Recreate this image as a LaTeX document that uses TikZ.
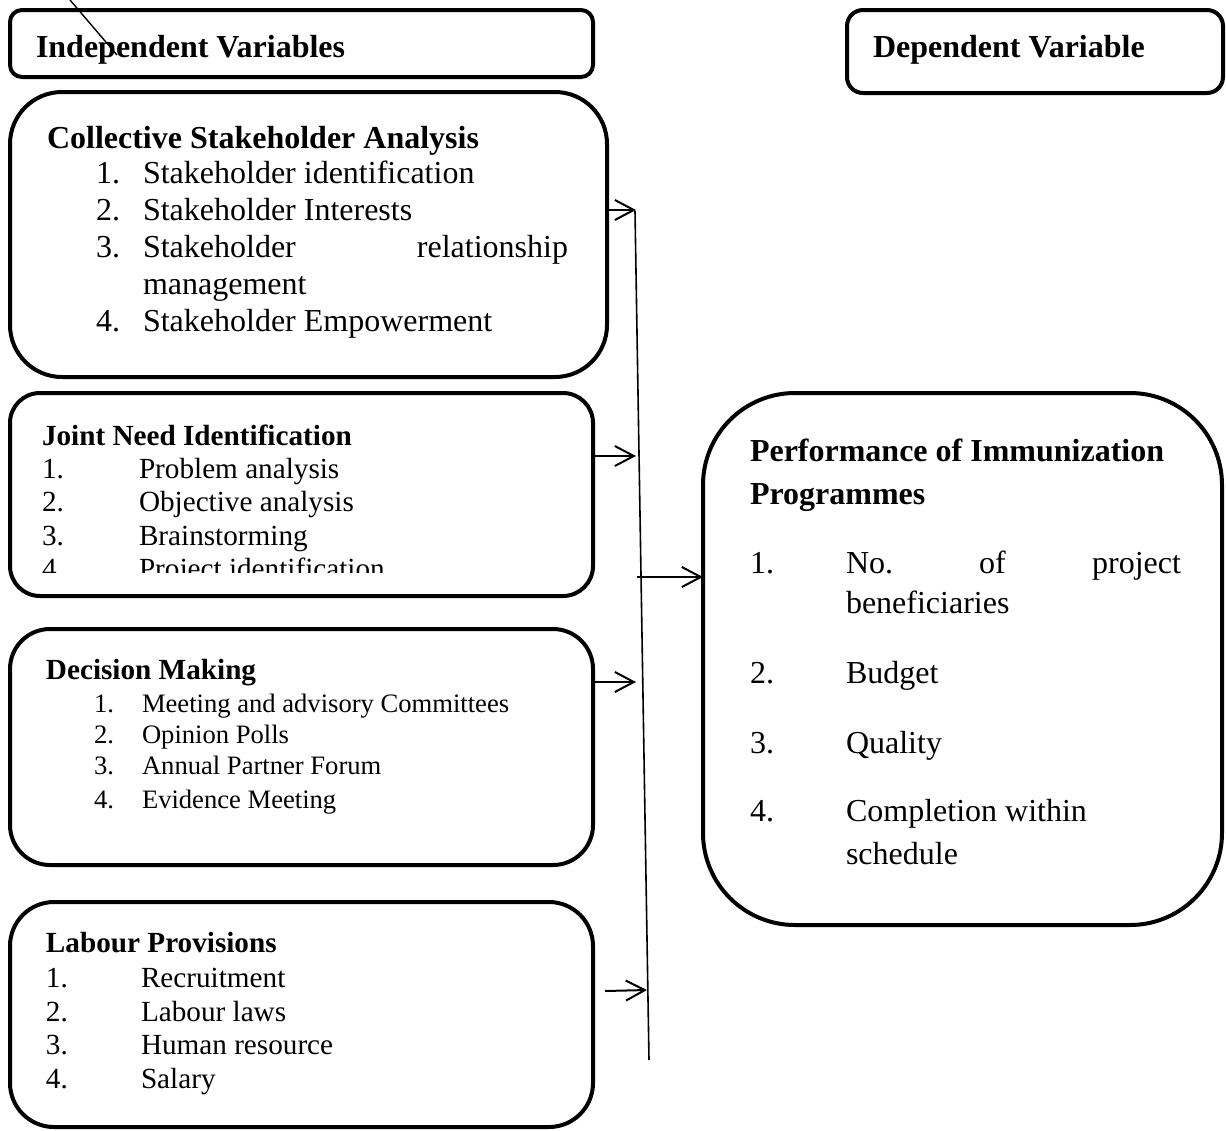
\documentclass[tikz,border=0pt]{standalone}
\usepackage{fontspec}
\setmainfont{Liberation Serif}
\usetikzlibrary{arrows.meta}
\begin{document}
\begin{tikzpicture}[x=0.5pt,y=-0.5pt,
  every node/.style={inner sep=0pt, outer sep=0pt},
  box/.style={draw, line width=2pt, rounded corners=#1},
  tl/.style={anchor=base west},
  tr/.style={anchor=base east},
  fL/.style={font=\fontsize{16}{19}\selectfont},
  fLb/.style={font=\fontsize{16}{19}\selectfont\bfseries},
  fM/.style={font=\fontsize{14.6}{17}\selectfont},
  fMb/.style={font=\fontsize{14.6}{17}\selectfont\bfseries},
  fS/.style={font=\fontsize{13.3}{16}\selectfont},
  arr/.style={line width=1pt, -{Straight Barb[length=9.5pt,width=10pt]}},
  spineline/.style={line width=0.8pt},
  thinline/.style={line width=0.7pt}
]
\useasboundingbox (0,0) rectangle (1226,1130);

% diagonal stray line
\coordinate (dA) at (70,0);
\coordinate (dB) at (117,55);
\draw[thinline] (dA) -- (dB);

% boxes
\node[box=6pt, minimum width=291.5pt, minimum height=33.5pt] (indep) at (301.5,43.5) {};
\node[box=8pt, minimum width=188pt, minimum height=41.5pt] (dep) at (1035,51.5) {};
\node[box=26pt, minimum width=298.5pt, minimum height=142.5pt] (csa) at (308.5,234.5) {};
\node[box=15pt, minimum width=291.5pt, minimum height=101.5pt] (jni) at (301.5,494.5) {};
\node[box=20pt, minimum width=291.5pt, minimum height=118pt] (dm) at (301.5,747) {};
\node[box=22pt, minimum width=291.5pt, minimum height=112.5pt] (lp) at (301.5,1014.5) {};
\node[box=46pt, minimum width=259.5pt, minimum height=266pt] (big) at (962.5,659) {};

% headers
\node[tl,fLb] (indepT) at (36,57) {Independent Variables};
\node[tl,fLb] (depT) at (873,57) {Dependent Variable};

% Collective Stakeholder Analysis
\node[tl,fLb] (csaT) at (47,148) {Collective Stakeholder Analysis};
\node[tl,fL] (csaN1) at (96,183) {1.};
\node[tl,fL] (csaI1) at (143,183) {Stakeholder identification};
\node[tl,fL] (csaN2) at (96,220) {2.};
\node[tl,fL] (csaI2) at (143,220) {Stakeholder Interests};
\node[tl,fL] (csaN3) at (96,257) {3.};
\node[tl,fL] (csaI3) at (143,257) {Stakeholder};
\node[tr,fL] (csaI3b) at (568,257) {relationship};
\node[tl,fL] (csaI3c) at (143,294) {management};
\node[tl,fL] (csaN4) at (96,331) {4.};
\node[tl,fL] (csaI4) at (143,331) {Stakeholder Empowerment};

% Joint Need Identification
\node[tl,fMb] (jniT) at (42,445) {Joint Need Identification};
\node[tl,fM] (jniN1) at (42,478) {1.};
\node[tl,fM] (jniI1) at (139,478) {Problem analysis};
\node[tl,fM] (jniN2) at (42,511) {2.};
\node[tl,fM] (jniI2) at (139,511) {Objective analysis};
\node[tl,fM] (jniN3) at (42,545) {3.};
\node[tl,fM] (jniI3) at (139,545) {Brainstorming};
\begin{scope}
\clip (0,393) rectangle (600,572);
\node[tl,fM] (jniN4) at (42,578) {4.};
\node[tl,fM] (jniI4) at (139,578) {Project identification};
\end{scope}

% Decision Making
\node[tl,fMb] (dmT) at (46,679) {Decision Making};
\node[tl,fS] (dmN1) at (94,712) {1.};
\node[tl,fS] (dmI1) at (142,712) {Meeting and advisory Committees};
\node[tl,fS] (dmN2) at (94,743) {2.};
\node[tl,fS] (dmI2) at (142,743) {Opinion Polls};
\node[tl,fS] (dmN3) at (94,774) {3.};
\node[tl,fS] (dmI3) at (142,774) {Annual Partner Forum};
\node[tl,fS] (dmN4) at (94,808) {4.};
\node[tl,fS] (dmI4) at (142,808) {Evidence Meeting};

% Labour Provisions
\node[tl,fMb] (lpT) at (46,952) {Labour Provisions};
\node[tl,fM] (lpN1) at (46,987) {1.};
\node[tl,fM] (lpI1) at (141,987) {Recruitment};
\node[tl,fM] (lpN2) at (46,1021) {2.};
\node[tl,fM] (lpI2) at (141,1021) {Labour laws};
\node[tl,fM] (lpN3) at (46,1054) {3.};
\node[tl,fM] (lpI3) at (141,1054) {Human resource};
\node[tl,fM] (lpN4) at (46,1088) {4.};
\node[tl,fM] (lpI4) at (141,1088) {Salary};

% Performance box
\node[tl,fLb] (bigT1) at (750,461) {Performance of Immunization};
\node[tl,fLb] (bigT2) at (750,504) {Programmes};
\node[tl,fL] (bigN1) at (750,573) {1.};
\node[tl,fL] (bigI1a) at (846,573) {No.};
\node[tl,fL] (bigI1b) at (979,573) {of};
\node[tr,fL] (bigI1c) at (1181,573) {project};
\node[tl,fL] (bigI1d) at (846,613) {beneficiaries};
\node[tl,fL] (bigN2) at (750,683) {2.};
\node[tl,fL] (bigI2) at (846,683) {Budget};
\node[tl,fL] (bigN3) at (750,753) {3.};
\node[tl,fL] (bigI3) at (846,753) {Quality};
\node[tl,fL] (bigN4) at (750,821) {4.};
\node[tl,fL] (bigI4) at (846,821) {Completion within};
\node[tl,fL] (bigI4b) at (846,864) {schedule};

% spine and arrows
\coordinate (sTop) at (635,211);
\coordinate (sBot) at (649,1060);
\draw[spineline] (sTop) -- (sBot);

\coordinate (t1) at (636,210);
\coordinate (t2) at (636,456);
\coordinate (t4) at (636,682);
\coordinate (s5) at (605,991);
\coordinate (t5) at (647,990);
\coordinate (s3) at (637,577);

\draw[arr] (csa.east |- t1) -- (t1);
\draw[arr] (jni.east |- t2) -- (t2);
\draw[arr] (s3) -- (big.west |- s3);
\draw[arr] (dm.east |- t4) -- (t4);
\draw[arr] (s5) -- (t5);
\end{tikzpicture}
\end{document}
